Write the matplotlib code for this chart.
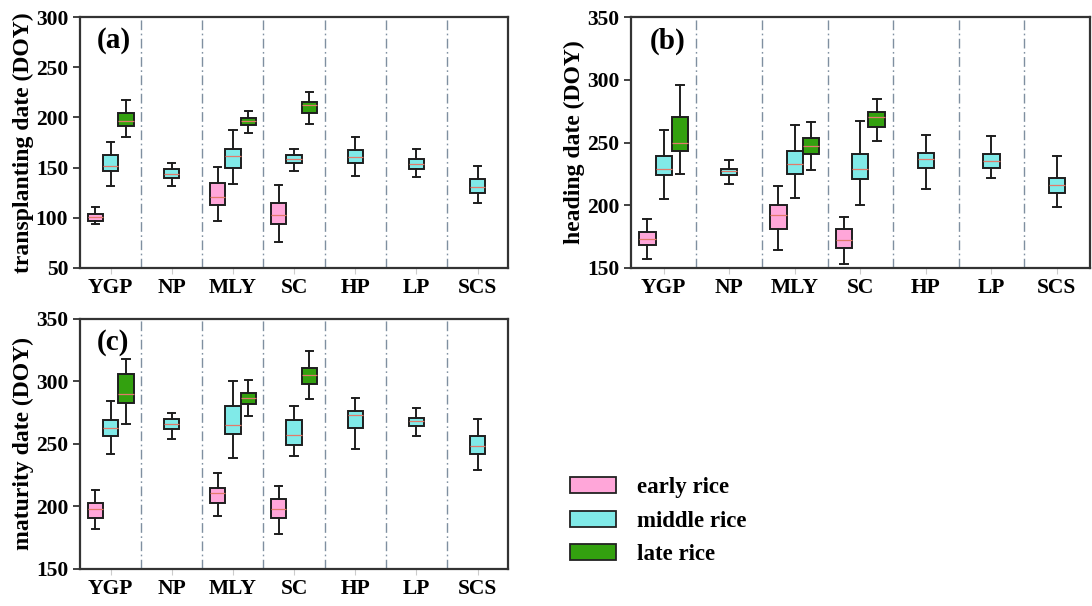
import matplotlib
matplotlib.use("Agg")
import matplotlib.pyplot as plt
from matplotlib.patches import Patch

plt.rcParams['font.family'] = ['Liberation Serif', 'DejaVu Serif']
plt.rcParams['font.weight'] = 'bold'

regions = ["YGP", "NP", "MLY", "SC", "HP", "LP", "SCS"]
rice_types = ["early rice", "middle rice", "late rice"]
rice_colors = ["#ffa6d9", "#80eae8", "#33a10f"]

# box stats per panel: (region index, rice type index, whislo, q1, med, q3, whishi)
transplanting = [
    (0, 0, 94, 97, 101, 104, 111),
    (0, 1, 132, 147, 152, 163, 176),
    (0, 2, 181, 191, 196, 204, 217),
    (1, 1, 132, 140, 144, 149, 155),
    (2, 0, 97, 113, 121, 135, 151),
    (2, 1, 134, 150, 162, 169, 187),
    (2, 2, 184, 192, 196, 199, 206),
    (3, 0, 76, 94, 103, 115, 133),
    (3, 1, 147, 155, 159, 163, 169),
    (3, 2, 193, 204, 212, 215, 225),
    (4, 1, 142, 155, 161, 168, 181),
    (5, 1, 141, 149, 154, 159, 169),
    (6, 1, 115, 125, 131, 139, 152),
]
heading = [
    (0, 0, 157, 168, 173, 179, 189),
    (0, 1, 205, 224, 229, 239, 260),
    (0, 2, 225, 243, 250, 270, 296),
    (1, 1, 217, 224, 227, 229, 236),
    (2, 0, 164, 181, 192, 200, 215),
    (2, 1, 206, 225, 233, 243, 264),
    (2, 2, 228, 241, 247, 254, 266),
    (3, 0, 153, 166, 172, 181, 191),
    (3, 1, 200, 221, 229, 241, 267),
    (3, 2, 251, 262, 270, 274, 285),
    (4, 1, 213, 230, 237, 242, 256),
    (5, 1, 222, 230, 235, 241, 255),
    (6, 1, 199, 210, 216, 222, 239),
]
maturity = [
    (0, 0, 182, 191, 198, 203, 213),
    (0, 1, 242, 256, 263, 269, 284),
    (0, 2, 266, 283, 290, 306, 318),
    (1, 1, 254, 262, 266, 270, 275),
    (2, 0, 192, 203, 211, 215, 227),
    (2, 1, 239, 258, 265, 280, 300),
    (2, 2, 272, 282, 287, 291, 301),
    (3, 0, 178, 191, 198, 206, 216),
    (3, 1, 240, 249, 257, 269, 280),
    (3, 2, 286, 298, 305, 311, 324),
    (4, 1, 246, 263, 273, 276, 287),
    (5, 1, 256, 264, 268, 271, 279),
    (6, 1, 229, 242, 248, 256, 270),
]

panels = [
    ("(a)", "transplanting date (DOY)", transplanting, (50, 300), [0.0733, 0.5578, 0.392, 0.414]),
    ("(b)", "heading date (DOY)", heading, (150, 350), [0.5778, 0.5578, 0.420, 0.414]),
    ("(c)", "maturity date (DOY)", maturity, (150, 350), [0.0733, 0.0611, 0.392, 0.4125]),
]

fig = plt.figure(figsize=(10.92, 6.06), dpi=100)

offsets = [-0.25, 0.0, 0.25]
for tag, ylabel, data, ylim, rect in panels:
    ax = fig.add_axes(rect)
    for reg, kind, lo, q1, med, q3, hi in data:
        st = [dict(whislo=lo, q1=q1, med=med, q3=q3, whishi=hi, fliers=[])]
        ax.bxp(st, positions=[reg + offsets[kind]], widths=0.25, patch_artist=True,
               showfliers=False,
               boxprops=dict(facecolor=rice_colors[kind], edgecolor="#1e1e1e", linewidth=1.4),
               whiskerprops=dict(color="#1e1e1e", linewidth=1.4),
               capprops=dict(color="#1e1e1e", linewidth=1.4),
               medianprops=dict(color="#e27a6a", linewidth=0.9),
               capwidths=0.12)
    for b in range(len(regions) - 1):
        ax.axvline(b + 0.5, color="#7f8fa0", linestyle=(0, (7, 2.5, 1.2, 2.5)), linewidth=1.0)
    ax.set_xlim(-0.5, len(regions) - 0.5)
    ax.set_ylim(*ylim)
    ax.set_yticks(range(ylim[0], ylim[1] + 1, 50))
    ax.set_xticks(range(len(regions)))
    ax.set_xticklabels(regions)
    ax.tick_params(axis="x", colors="#cccccc", length=4, labelcolor="black", labelsize=15.5)
    ax.tick_params(axis="y", length=5, width=1.3, color="#333333", labelsize=15.5)
    for lab in ax.get_xticklabels() + ax.get_yticklabels():
        lab.set_fontweight("bold")
    for s in ax.spines.values():
        s.set_linewidth(1.6)
        s.set_color("#333333")
    ax.set_ylabel(ylabel, fontsize=17, fontweight="bold", labelpad=1)
    ax.text(0.04, 0.905, tag, transform=ax.transAxes, fontsize=21, fontweight="bold", va="center")

handles = [Patch(facecolor=c, edgecolor="#222222", linewidth=1.3, label=l)
           for c, l in zip(rice_colors, rice_types)]
fig.legend(handles=handles, loc="upper left", bbox_to_anchor=(0.514, 0.228), frameon=False,
           prop=dict(size=16.5, weight="bold"), handlelength=2.0, handleheight=0.7,
           labelspacing=0.55, handletextpad=0.9, borderaxespad=0)

fig.savefig("out.png", dpi=100)
